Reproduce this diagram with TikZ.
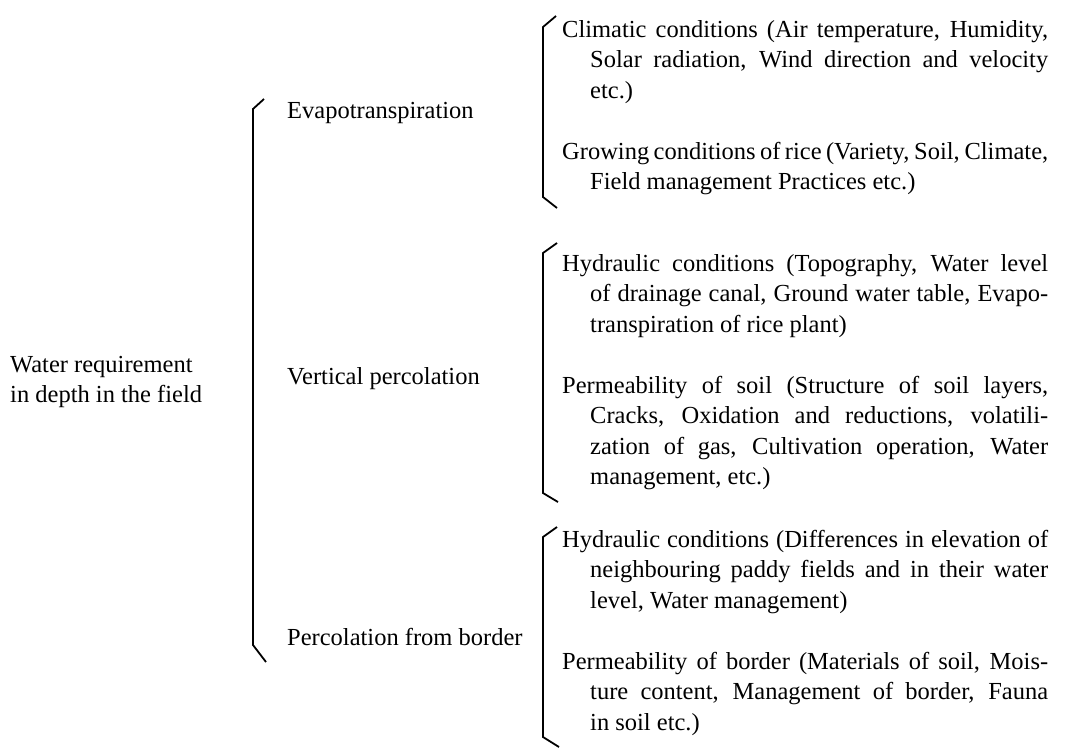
\documentclass[tikz,border=0pt]{standalone}
\usepackage{fontspec}
\setmainfont{Liberation Serif}
\newcommand{\jl}[2]{\makebox[#1][s]{#2}}
\begin{document}
\begin{tikzpicture}[x=1pt,y=-1pt,
  txt/.style={anchor=base west, inner sep=0pt, font=\fontsize{24.5}{30.5}\selectfont},
  brk/.style={line width=1.8pt, line join=miter}]
\useasboundingbox (0,0) rectangle (1081,748);
\fill[white] (0,0) rectangle (1081,748);
% left
\node[txt] (w1) at (10,372) {Water requirement};
\node[txt] (w2) at (10,402) {in depth in the field};
% middle
\node[txt] (m1) at (287,118) {Evapotranspiration};
\node[txt] (m2) at (287,384) {Vertical percolation};
\node[txt] (m3) at (287,645) {Percolation from border};
% big bracket
\coordinate (b0t) at (264,99);
\coordinate (b0a) at (253,109);
\coordinate (b0b) at (253,645);
\coordinate (b0e) at (266,662);
\draw[brk] (b0t) -- (b0a) -- (b0b) -- (b0e);
% bracket A
\coordinate (bat) at (556,16);
\coordinate (baa) at (543,27);
\coordinate (bab) at (543,197);
\coordinate (bae) at (557,208);
\draw[brk] (bat) -- (baa) -- (bab) -- (bae);
% bracket B
\coordinate (bbt) at (557,243);
\coordinate (bba) at (543,253);
\coordinate (bbb) at (543,493);
\coordinate (bbe) at (558,502);
\draw[brk] (bbt) -- (bba) -- (bbb) -- (bbe);
% bracket C
\coordinate (bct) at (557,527);
\coordinate (bca) at (543,537);
\coordinate (bcb) at (543,737);
\coordinate (bce) at (559,747);
\draw[brk] (bct) -- (bca) -- (bcb) -- (bce);
% A items
\node[txt] (a11) at (562,37) {\jl{486pt}{Climatic conditions (Air temperature, Humidity,}};
\node[txt] (a12) at (590,67.5) {\jl{458pt}{Solar radiation, Wind direction and velocity}};
\node[txt] (a13) at (590,98) {etc.)};
\node[txt] (a21) at (562,159) {\jl{486pt}{Growing conditions of rice (Variety, Soil, Climate,}};
\node[txt] (a22) at (590,189.5) {Field management Practices etc.)};
% B items
\node[txt] (b11) at (562,271) {\jl{486pt}{Hydraulic conditions (Topography, Water level}};
\node[txt] (b12) at (590,301.5) {\jl{458pt}{of drainage canal, Ground water table, Evapo-}};
\node[txt] (b13) at (590,332) {transpiration of rice plant)};
\node[txt] (b21) at (562,393) {\jl{486pt}{Permeability of soil (Structure of soil layers,}};
\node[txt] (b22) at (590,423.5) {\jl{458pt}{Cracks, Oxidation and reductions, volatili-}};
\node[txt] (b23) at (590,454) {\jl{458pt}{zation of gas, Cultivation operation, Water}};
\node[txt] (b24) at (590,484.5) {management, etc.)};
% C items
\node[txt] (c11) at (562,547) {\jl{486pt}{Hydraulic conditions (Differences in elevation of}};
\node[txt] (c12) at (590,577.5) {\jl{458pt}{neighbouring paddy fields and in their water}};
\node[txt] (c13) at (590,608) {level, Water management)};
\node[txt] (c21) at (562,669) {\jl{486pt}{Permeability of border (Materials of soil, Mois-}};
\node[txt] (c22) at (590,699.5) {\jl{458pt}{ture content, Management of border, Fauna}};
\node[txt] (c23) at (590,730) {in soil etc.)};
\end{tikzpicture}
\end{document}
